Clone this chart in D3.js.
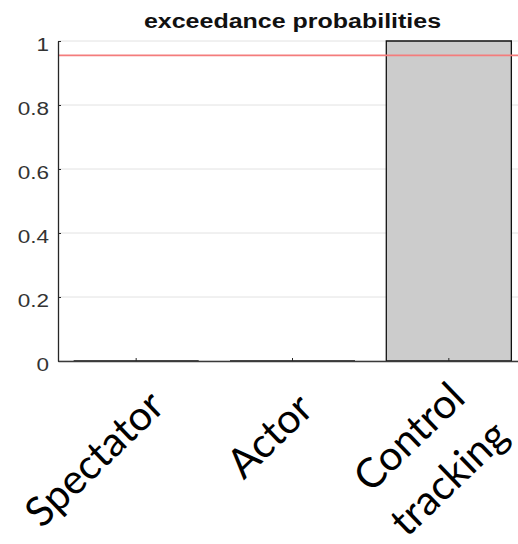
<!DOCTYPE html>
<html>
<head>
<meta charset="utf-8">
<script src="https://cdn.jsdelivr.net/npm/d3@7"></script>
<style>
  body { margin: 0; background: #fff; }
  svg { display: block; }
</style>
</head>
<body>
<svg id="chart" width="518" height="544"></svg>
<script>
// Exceedance probabilities per model
const categories = ["Spectator", "Actor", "Control\ntracking"];
const exceedance = [0, 0, 1];
const threshold = 0.955;
const yTicks = [0, 0.2, 0.4, 0.6, 0.8, 1];
const yTickLabels = ["0", "0.2", "0.4", "0.6", "0.8", "1"];
const titleText = "exceedance probabilities";

const svg = d3.select("#chart");
const plot = { left: 58, right: 527, top: 41, bottom: 361 };
const stretch = 1.25; // axis text is drawn slightly wide

const x = d3.scaleBand()
  .domain(categories)
  .range([plot.left, plot.right])
  .paddingInner(0.2)
  .paddingOuter(0.1);
const y = d3.scaleLinear().domain([0, 1]).range([plot.bottom, plot.top]);

// horizontal grid
svg.append("g")
  .selectAll("line")
  .data(yTicks)
  .join("line")
  .attr("x1", plot.left).attr("x2", plot.right)
  .attr("y1", d => y(d)).attr("y2", d => y(d))
  .attr("stroke", "#e2e2e2")
  .attr("stroke-width", 1);

// bars (drawn as paths so zero-height bars still show their edge)
svg.append("g")
  .selectAll("path")
  .data(categories.map((c, i) => ({ c, v: exceedance[i] })))
  .join("path")
  .attr("d", d => {
    const x0 = x(d.c), x1 = x(d.c) + x.bandwidth();
    const y0 = y(0), y1 = y(d.v);
    return d.v > 0
      ? `M${x0},${y0}V${y1}H${x1}V${y0}Z`
      : `M${x0},${y0}H${x1}`;
  })
  .attr("fill", "#cccccc")
  .attr("stroke", "#111")
  .attr("stroke-width", 1.3);

// threshold line
svg.append("line")
  .attr("x1", plot.left).attr("x2", plot.right)
  .attr("y1", y(threshold)).attr("y2", y(threshold))
  .attr("stroke", "#f47c7c")
  .attr("stroke-width", 1.6);

// y axis
const yAxis = svg.append("g")
  .attr("transform", `translate(${plot.left},0)`)
  .call(d3.axisLeft(y)
    .tickValues(yTicks)
    .tickFormat((d, i) => yTickLabels[i])
    .tickSizeInner(-3)
    .tickSizeOuter(0)
    .tickPadding(9));
yAxis.select(".domain").attr("stroke", "#262626").attr("stroke-width", 1.3);
yAxis.selectAll(".tick line").attr("stroke", "#262626");
yAxis.selectAll(".tick text")
  .attr("x", null).attr("dy", null)
  .attr("transform", `translate(-9,9) scale(${stretch},1)`)
  .attr("text-anchor", "end")
  .attr("fill", "#333")
  .style("font-family", "'Liberation Sans', Arial, sans-serif")
  .style("font-size", "18px");

// x axis (ticks only; category names are drawn below)
const xAxis = svg.append("g")
  .attr("transform", `translate(0,${plot.bottom})`)
  .call(d3.axisBottom(x)
    .tickSizeInner(-3)
    .tickSizeOuter(0)
    .tickFormat(""));
xAxis.select(".domain").attr("stroke", "#3a3a3a").attr("stroke-width", 1.3);
xAxis.selectAll(".tick line").attr("stroke", "#262626");

// title
svg.append("text")
  .attr("transform", `translate(${(plot.left + plot.right) / 2},28) scale(${stretch},1)`)
  .attr("text-anchor", "middle")
  .style("font-family", "'Liberation Sans', Arial, sans-serif")
  .style("font-weight", "bold")
  .style("font-size", "20px")
  .attr("fill", "#111")
  .text(titleText);

// rotated category labels
const labelOffset = [[-32, 108], [-13, 85], [-30, 86]];
const labels = svg.append("g")
  .selectAll("text")
  .data(categories)
  .join("text")
  .attr("transform", (d, i) => {
    const cx = x(d) + x.bandwidth() / 2 + labelOffset[i][0];
    const cy = plot.bottom + labelOffset[i][1];
    return `translate(${cx},${cy}) rotate(-44)`;
  })
  .attr("text-anchor", "middle")
  .style("font-family", "Lato, 'Open Sans', sans-serif")
  .style("font-size", "41px")
  .attr("fill", "#000");
labels.selectAll("tspan")
  .data(d => d.split("\n"))
  .join("tspan")
  .attr("x", 0)
  .attr("dy", (d, i) => i === 0 ? 0 : "1.4em")
  .text(d => d);
</script>
</body>
</html>
